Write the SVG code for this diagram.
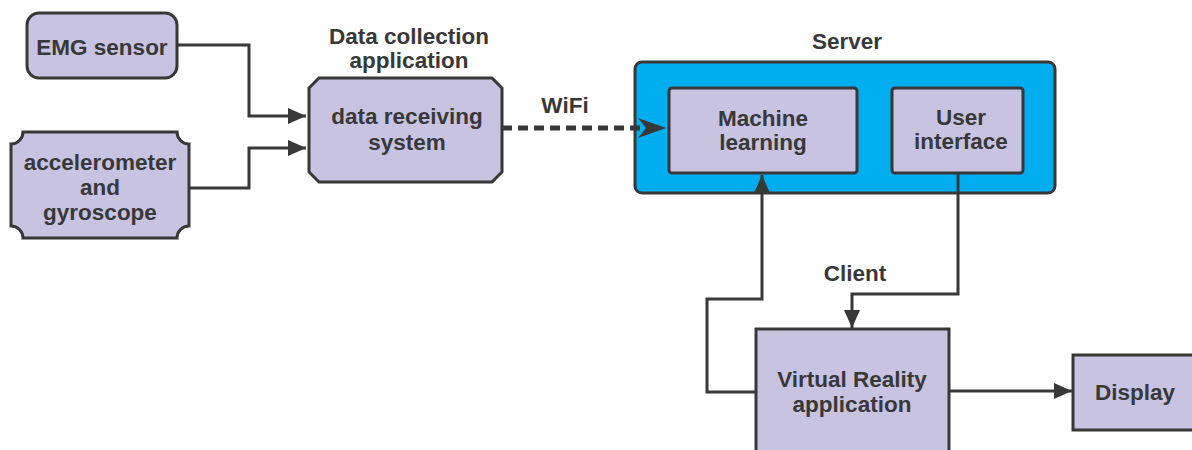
<svg xmlns="http://www.w3.org/2000/svg" width="1192" height="450" viewBox="0 0 1192 450">
<style>
.n{fill:#c7c3e1;stroke:#383838;stroke-width:3}
.t{font-family:"Liberation Sans",Arial,sans-serif;font-weight:bold;font-size:22.5px;fill:#383838;text-anchor:middle}
.c{fill:none;stroke:#383838;stroke-width:3}
</style>
<defs>
<marker id="ah" markerWidth="18" markerHeight="16" refX="18" refY="8" orient="auto" markerUnits="userSpaceOnUse" viewBox="0 0 18 16">
<path d="M0,0 L18,8 L0,16 Z" fill="#383838"/>
</marker>
<marker id="ah2" markerWidth="28" markerHeight="20" refX="28" refY="10" orient="auto" markerUnits="userSpaceOnUse" viewBox="0 0 28 20">
<path d="M0,0 L28,10 L0,20 L8,10 Z" fill="#383838"/>
</marker>
</defs>
<rect width="1192" height="450" fill="#fff"/>
<g id="server">
<rect x="635" y="62" width="420" height="131" rx="7" fill="#00aeef" stroke="#383838" stroke-width="3"/>
<text class="t" x="847" y="49">Server</text>
</g>
<g id="connectors">
<polyline class="c" points="177,45 249,45 249,116 306,116" marker-end="url(#ah)"/>
<polyline class="c" points="189,188 249,188 249,148 306,148" marker-end="url(#ah)"/>
<line x1="502" y1="128" x2="644" y2="128" stroke="#383838" stroke-width="5" stroke-dasharray="10,6"/>
<line x1="638" y1="128" x2="666" y2="128" stroke="none" marker-end="url(#ah2)"/>
<polyline class="c" points="756,392 707,392 707,299 762,299 762,175" marker-end="url(#ah)"/>
<polyline class="c" points="958,173 958,294 852,294 852,328" marker-end="url(#ah)"/>
<polyline class="c" points="949,391 1072,391" marker-end="url(#ah)"/>
</g>
<g id="emg">
<rect class="n" x="27" y="13" width="150" height="65" rx="12"/>
<text class="t" x="102" y="55">EMG sensor</text>
</g>
<g id="accel">
<path class="n" d="M23,132 L177,132 A12,12 0 0 0 189,144 L189,226 A12,12 0 0 0 177,238 L23,238 A12,12 0 0 0 11,226 L11,144 A12,12 0 0 0 23,132 Z"/>
<text class="t" x="100" y="170">accelerometer</text>
<text class="t" x="100" y="195">and</text>
<text class="t" x="100" y="220">gyroscope</text>
</g>
<g id="datarx">
<path class="n" d="M319,78 L492,78 L502,88 L502,172 L492,182 L319,182 L309,172 L309,88 Z"/>
<text class="t" x="409" y="44">Data collection</text>
<text class="t" x="409" y="68">application</text>
<text class="t" x="407" y="124">data receiving</text>
<text class="t" x="407" y="150">system</text>
</g>
<g id="wifi">
<text class="t" x="565" y="113">WiFi</text>
</g>
<g id="ml">
<rect class="n" x="669" y="88" width="188" height="85" rx="3"/>
<text class="t" x="763" y="126">Machine</text>
<text class="t" x="763" y="150">learning</text>
</g>
<g id="ui">
<rect class="n" x="892" y="88" width="131" height="85" rx="3"/>
<text class="t" x="961" y="125">User</text>
<text class="t" x="961" y="149">interface</text>
</g>
<g id="client">
<text class="t" x="855" y="281">Client</text>
</g>
<g id="vr">
<rect class="n" x="756" y="329" width="193" height="140"/>
<text class="t" x="852" y="387">Virtual Reality</text>
<text class="t" x="852" y="412">application</text>
</g>
<g id="display">
<rect class="n" x="1073" y="355" width="140" height="75"/>
<text class="t" x="1135" y="400">Display</text>
</g>
</svg>
